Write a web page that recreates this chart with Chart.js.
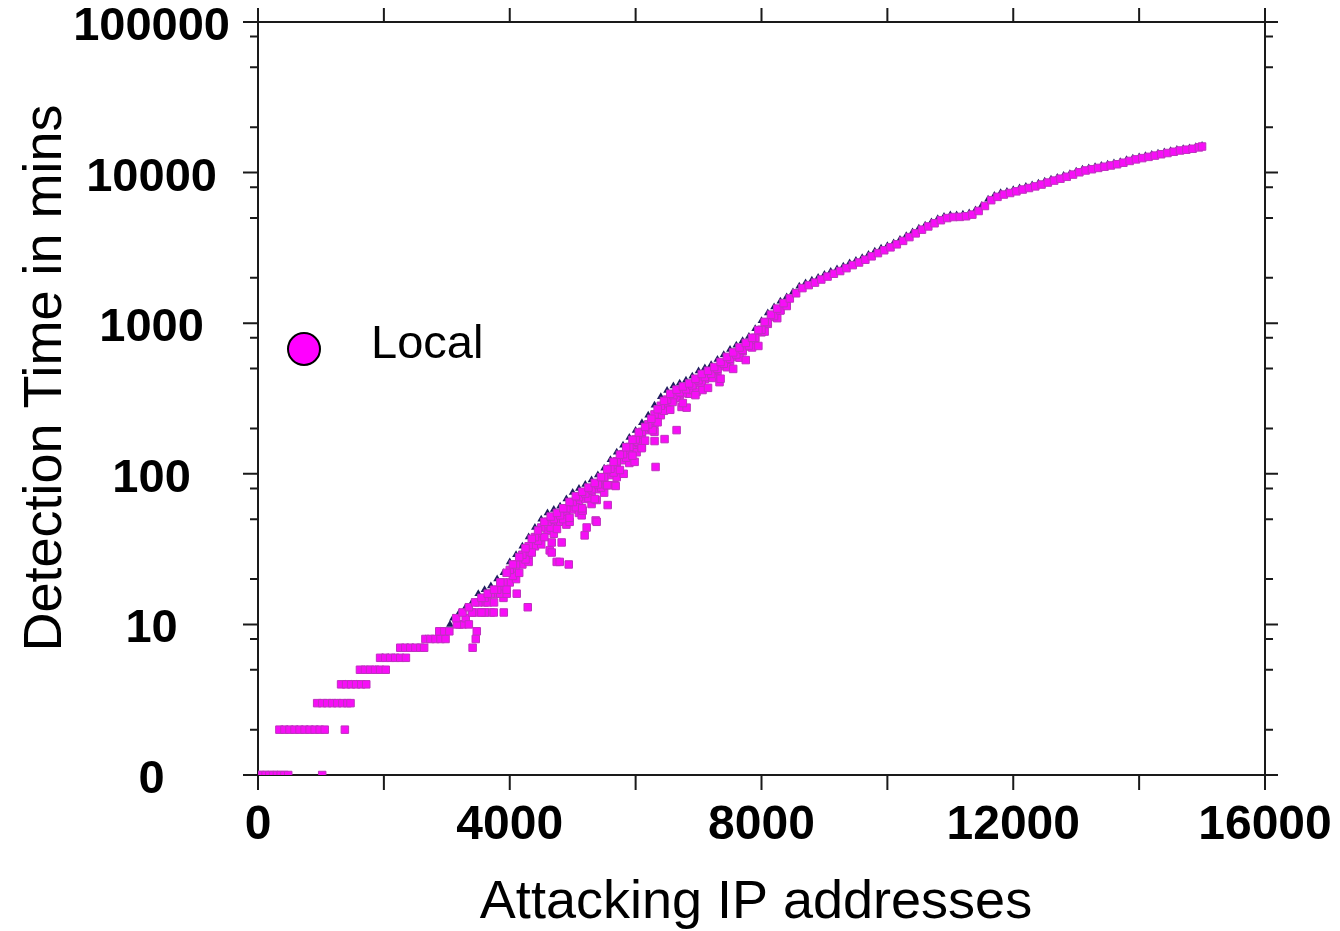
<!DOCTYPE html>
<html>
<head>
<meta charset="utf-8">
<title>Detection time</title>
<script src="https://cdn.jsdelivr.net/npm/chart.js@4.4.0/dist/chart.umd.min.js"></script>
<style>
  html, body { margin: 0; padding: 0; background: #fff; }
  #wrap { width: 1340px; height: 931px; }
</style>
</head>
<body>
<div id="wrap"><canvas id="detectionChart" width="1340" height="931"></canvas></div>
<script>
// --- axis ticks ---
const xTickValues = [0, 2000, 4000, 6000, 8000, 10000, 12000, 14000, 16000];
const xLabelValues = [0, 4000, 8000, 12000, 16000];
const yDecades = [1, 10, 100, 1000, 10000, 100000];
const yTickText = ['0', '10', '100', '1000', '10000', '100000'];
const yMinorValues = [2, 5, 8, 20, 50, 80, 200, 500, 800, 2000, 5000, 8000, 20000, 50000, 80000];

// --- upper envelope (triangles) ---
const upperIps = [
    0, 80, 160, 240, 310,
    390, 470, 550, 630, 710, 790, 870, 940,
    1000, 1090, 1180, 1270, 1390, 1480, 1570, 1690, 1780, 1870,
    1980, 2070, 2170, 2370, 2460, 2560, 2660, 2750, 2830, 2900, 2980, 3050,
    3100, 3200, 3300, 3400, 3500, 3600, 3700, 3800, 3900,
    4000, 4100, 4200, 4300, 4400, 4500, 4600, 4700, 4800, 4900,
    5000, 5100, 5200, 5300, 5400, 5500, 5600, 5700, 5800, 5900,
    6000, 6100, 6200, 6300, 6400, 6500, 6600, 6700, 6800, 6900,
    7000, 7100, 7200, 7300, 7400, 7500, 7600, 7700, 7800, 7900,
    8000, 8100, 8200, 8300, 8400, 8500, 8600, 8700, 8800, 8900,
    9000, 9100, 9200, 9300, 9400, 9500, 9600, 9700, 9800, 9900,
    10000, 10100, 10200, 10300, 10400, 10500, 10600, 10700, 10800, 10900,
    11000, 11100, 11200, 11300, 11400, 11500, 11600, 11700, 11800, 11900,
    12000, 12100, 12200, 12300, 12400, 12500, 12600, 12700, 12800, 12900,
    13000, 13100, 13200, 13300, 13400, 13500, 13600, 13700, 13800, 13900,
    14000, 14100, 14200, 14300, 14400, 14500, 14600, 14700, 14800, 14900,
    15000
];
const upperMins = [
    1, 1, 1, 1, 1,
    2, 2, 2, 2, 2, 2, 2, 2,
    3, 3, 3, 3, 4, 4, 4, 5, 5, 5,
    6, 6, 6, 7, 7, 7, 8, 8, 8, 9, 9, 10,
    11, 12, 13, 14, 16, 17, 18, 20, 22,
    26, 29, 33, 38, 44, 50, 55, 58, 61, 68,
    75, 80, 85, 91, 98, 109, 124, 139, 155, 174,
    194, 218, 245, 285, 325, 358, 383, 400, 418, 445,
    481, 505, 530, 573, 618, 668, 713, 764, 817, 920,
    1040, 1167, 1283, 1397, 1493, 1614, 1762, 1849, 1932, 2011,
    2104, 2208, 2291, 2393, 2512, 2612, 2723, 2858, 3006, 3141,
    3266, 3412, 3589, 3802, 4027, 4266, 4477, 4699, 4932, 5105,
    5224, 5236, 5297, 5395, 5649, 6053, 6653, 7047, 7345, 7500,
    7691, 7907, 8072, 8260, 8492, 8750, 9016, 9268, 9550, 9817,
    10210, 10520, 10720, 10940, 11140, 11350, 11560, 11800, 12160, 12450,
    12700, 12940, 13180, 13460, 13710, 13960, 14260, 14420, 14560, 14860,
    15140
];

// --- Local: whole-minute steps at the start ---
const stepIps = [
    0, 60, 120, 180, 240, 300, 360, 420, 480, 1020,
    340, 420, 500, 580, 660, 740, 820, 900, 980, 1060, 1380,
    940, 1020, 1100, 1180, 1260, 1340, 1420, 1470,
    1320, 1400, 1480, 1560, 1640, 1720,
    1620, 1700, 1780, 1860, 1940, 2030,
    1940, 2020, 2100, 2180, 2260, 2350,
    2260, 2340, 2420, 2500, 2580, 2640, 3410,
    2660, 2740, 2820, 2900, 2980, 3460,
    2880, 2960, 3040, 3476
];
const stepMins = [
    1, 1, 1, 1, 1, 1, 1, 1, 1, 1,
    2, 2, 2, 2, 2, 2, 2, 2, 2, 2, 2,
    3, 3, 3, 3, 3, 3, 3, 3,
    4, 4, 4, 4, 4, 4,
    5, 5, 5, 5, 5, 5,
    6, 6, 6, 6, 6, 6,
    7, 7, 7, 7, 7, 7, 7,
    8, 8, 8, 8, 8, 8,
    9, 9, 9, 9
];

// --- Local: main band ---
const bandIps = [
    3150, 3250, 3350, 3450, 3550, 3650, 3750, 3850, 3950,
    4050, 4150, 4250, 4350, 4450, 4550, 4650, 4750, 4850, 4950,
    5050, 5150, 5250, 5350, 5450, 5550, 5650, 5750, 5850, 5950,
    6050, 6150, 6250, 6350, 6450, 6550, 6650, 6750, 6850, 6950,
    7050, 7150, 7250, 7350, 7450, 7550, 7650, 7750, 7850, 7950,
    8050, 8150, 8250, 8350, 8450, 8550, 8650, 8750, 8850, 8950,
    9050, 9150, 9250, 9350, 9450, 9550, 9650, 9750, 9850, 9950,
    10050, 10150, 10250, 10350, 10450, 10550, 10650, 10750, 10850, 10950,
    11050, 11150, 11250, 11350, 11450, 11550, 11650, 11750, 11850, 11950,
    12050, 12150, 12250, 12350, 12450, 12550, 12650, 12750, 12850, 12950,
    13050, 13150, 13250, 13350, 13450, 13550, 13650, 13750, 13850, 13950,
    14050, 14150, 14250, 14350, 14450, 14550, 14650, 14750, 14850, 14950,
    15000
];
const bandMins = [
    11, 12, 13, 14, 15, 16, 17, 19, 22,
    25, 28, 32, 37, 42, 48, 52, 55, 59, 65,
    71, 76, 81, 87, 95, 107, 120, 134, 150, 168,
    188, 205, 232, 268, 305, 340, 362, 380, 398, 428,
    460, 483, 512, 553, 598, 640, 690, 740, 800, 900,
    1020, 1140, 1250, 1360, 1460, 1580, 1710, 1790, 1860, 1950,
    2040, 2130, 2220, 2320, 2430, 2530, 2640, 2780, 2920, 3050,
    3190, 3340, 3520, 3730, 3950, 4180, 4390, 4610, 4830, 4990,
    5070, 5080, 5130, 5260, 5560, 6000, 6560, 6900, 7150, 7320,
    7510, 7720, 7900, 8100, 8330, 8590, 8850, 9110, 9380, 9700,
    10050, 10330, 10530, 10740, 10940, 11150, 11360, 11630, 11950, 12240,
    12480, 12720, 12970, 13240, 13490, 13750, 14020, 14190, 14400, 14700,
    14900
];

// upper-middle of the band, 3300-8400
const bandMidIps = [
    3300, 3400, 3500, 3600, 3700, 3800, 3900,
    4000, 4100, 4200, 4300, 4400, 4500, 4600, 4700, 4800, 4900,
    5000, 5100, 5200, 5300, 5400, 5500, 5600, 5700, 5800, 5900,
    6000, 6100, 6200, 6300, 6400, 6500, 6600, 6700, 6800, 6900,
    7000, 7100, 7200, 7300, 7400, 7500, 7600, 7700, 7800, 7900,
    8000, 8100, 8200, 8300, 8400,
    3350, 3550, 3750, 3950, 4150, 4350, 4550, 4750, 4950, 5150,
    5350, 5550, 5750, 5950, 6150, 6350, 6550, 6750, 6950, 7150,
    7350, 7550, 7750, 7950
];
const bandMidMins = [
    11, 12, 14, 15, 16, 17, 19,
    23, 25, 29, 33, 38, 44, 48, 50, 53, 59,
    65, 70, 74, 79, 85, 95, 108, 121, 135, 151,
    169, 190, 213, 248, 283, 311, 333, 348, 364, 387,
    418, 439, 461, 498, 538, 581, 620, 665, 711, 800,
    905, 1015, 1116, 1215, 1300,
    10, 12, 14, 17, 22, 30, 38, 43, 51, 59,
    68, 84, 106, 132, 166, 220, 266, 295, 333, 372,
    428, 497, 569, 706
];

// lower part of the band where it is widest
const bandLowIps = [
    3200, 3400, 3600, 3800, 3900, 4000, 4100, 4200, 4300, 4400,
    4500, 4600, 4700, 4800, 4900, 5000, 5100, 5200, 5300, 5400,
    5500, 5600, 5700, 5800, 5900, 6000, 6100, 6200, 6300, 6400,
    6500, 6600, 6700, 6800, 6900, 7000, 7100, 7200, 7300, 7400,
    7500, 7600, 7700, 7800, 7900, 8000, 8100, 8200, 8300, 8400,
    3700, 3900, 4100, 4300, 4500, 4700, 4900, 5100, 5300, 5500,
    5700, 5900, 6100, 6300,
    3250, 3450, 3650, 3850, 4050, 4250, 4450, 4650, 4850, 5050,
    5250, 5450, 5650, 5850, 6050, 6250, 6450, 6650, 6850, 7050,
    7250, 7450, 7650, 7850, 8050, 8250
];
const bandLowMins = [
    10, 12, 14, 16, 17, 19, 22, 25, 29, 33,
    38, 42, 45, 48, 53, 58, 63, 68, 73, 79,
    88, 98, 110, 123, 138, 156, 176, 195, 215, 245,
    285, 312, 333, 350, 370, 400, 425, 450, 480, 520,
    560, 600, 650, 700, 770, 870, 990, 1100, 1220, 1320,
    12, 15, 20, 26, 34, 40, 46, 55, 63, 75,
    95, 118, 150, 190,
    10, 12, 14, 16, 21, 27, 36, 44, 50, 60,
    69, 81, 102, 128, 160, 200, 262, 320, 340, 395,
    440, 510, 590, 690, 880, 1080
];

// scattered slow detections below the band
const strayIps = [
    3159, 3572, 3603, 3746, 3905, 3952, 4111, 4286, 4635, 4667,
    4667, 4746, 4794, 4825, 4937, 4952, 5143, 5159, 5190, 5222,
    5365, 5381, 5381, 5540, 5556, 5667, 5683, 5810, 5984, 6016,
    6032, 6095, 6270, 6301, 6317, 6460, 6587, 6651, 6730, 6746,
    6810, 6905, 6968, 7063, 7222, 7333, 7698
];
const strayMins = [
    10, 12, 12, 12, 12, 16, 16, 13, 31, 35,
    30, 26, 26, 35, 25, 48, 53, 57, 39, 44,
    49, 48, 67, 84, 62, 84, 83, 100, 120, 139,
    163, 148, 195, 165, 111, 170, 300, 195, 278, 343,
    275, 360, 350, 360, 433, 406, 664
];

const toPoints = (xs, ys) => xs.map((v, i) => ({ x: v, y: ys[i] }));

const localPoints = [
    ...toPoints(stepIps, stepMins),
    ...toPoints(bandLowIps, bandLowMins),
    ...toPoints(strayIps, strayMins),
    ...toPoints(bandMidIps, bandMidMins),
    ...toPoints(bandIps, bandMins)
];

const FONT = "'Liberation Sans', Arial, Helvetica, sans-serif";
const AXIS_COLOR = '#1a1a1a';

// Box frame, outward ticks, axis titles and the legend entry
const frameAndTicks = {
    id: 'frameAndTicks',
    beforeDatasetsDraw(chart) {
        const { ctx, chartArea: { left, right, top, bottom }, scales: { x, y } } = chart;
        ctx.save();
        ctx.strokeStyle = AXIS_COLOR;
        ctx.lineWidth = 2;
        ctx.strokeRect(left, top, right - left, bottom - top);

        ctx.beginPath();
        xTickValues.forEach(v => {
            const px = x.getPixelForValue(v);
            ctx.moveTo(px, bottom); ctx.lineTo(px, bottom + 15);
            ctx.moveTo(px, top); ctx.lineTo(px, top - 14);
        });
        yDecades.forEach(v => {
            const py = y.getPixelForValue(v);
            ctx.moveTo(left - 15, py); ctx.lineTo(left, py);
            ctx.moveTo(right, py); ctx.lineTo(right + 13, py);
        });
        yMinorValues.forEach(v => {
            const py = y.getPixelForValue(v);
            ctx.moveTo(left - 8, py); ctx.lineTo(left, py);
            ctx.moveTo(right, py); ctx.lineTo(right + 8, py);
        });
        ctx.stroke();
        ctx.restore();
    },
    afterDraw(chart) {
        const { ctx } = chart;
        ctx.save();
        ctx.fillStyle = '#000';
        ctx.font = `54px ${FONT}`;
        ctx.textAlign = 'center';
        ctx.textBaseline = 'alphabetic';
        ctx.fillText('Attacking IP addresses', 756, 918);

        ctx.translate(61, 378);
        ctx.rotate(-Math.PI / 2);
        ctx.fillText('Detection Time in mins', 0, 0);
        ctx.restore();

        // legend
        ctx.save();
        ctx.beginPath();
        ctx.arc(304, 349, 16, 0, Math.PI * 2);
        ctx.fillStyle = '#ff00ff';
        ctx.fill();
        ctx.lineWidth = 2;
        ctx.strokeStyle = '#000';
        ctx.stroke();
        ctx.fillStyle = '#000';
        ctx.font = `47px ${FONT}`;
        ctx.textBaseline = 'alphabetic';
        ctx.fillText('Local', 371, 358);
        ctx.restore();
    }
};

const ctx = document.getElementById('detectionChart');

new Chart(ctx, {
    type: 'scatter',
    data: {
        datasets: [
            {
                label: 'Local',
                data: localPoints,
                pointStyle: 'rect',
                pointRadius: 5.3,
                backgroundColor: '#f70ef7',
                borderColor: '#c030c0',
                borderWidth: 1,
                order: 1
            },
            {
                label: 'Upper',
                data: toPoints(upperIps, upperMins),
                pointStyle: 'triangle',
                pointRadius: 4.5,
                backgroundColor: '#1e1e5e',
                borderColor: '#1e1e5e',
                borderWidth: 0,
                order: 2
            }
        ]
    },
    options: {
        responsive: false,
        animation: false,
        layout: { padding: { top: 22, right: 75, bottom: 0, left: 0 } },
        plugins: {
            legend: { display: false },
            tooltip: { enabled: false }
        },
        scales: {
            x: {
                type: 'linear',
                min: 0,
                max: 16000,
                afterBuildTicks: s => { s.ticks = xLabelValues.map(v => ({ value: v })); },
                afterFit: s => { s.height = 156; s.paddingLeft = 0; s.paddingRight = 0; },
                grid: { display: false },
                border: { display: false },
                ticks: {
                    color: '#000',
                    padding: 14,
                    maxRotation: 0,
                    autoSkip: false,
                    callback: value => String(value),
                    font: { family: FONT, size: 48, weight: 'bold' }
                }
            },
            y: {
                type: 'logarithmic',
                min: 1,
                max: 100000,
                afterBuildTicks: s => { s.ticks = yDecades.map(v => ({ value: v })); },
                afterFit: s => { s.width = 258; s.paddingTop = 0; s.paddingBottom = 0; },
                grid: { display: false },
                border: { display: false },
                ticks: {
                    color: '#000',
                    padding: 20,
                    labelOffset: 5,
                    crossAlign: 'center',
                    autoSkip: false,
                    callback: (value, index) => yTickText[index],
                    font: { family: FONT, size: 47, weight: 'bold' }
                }
            }
        }
    },
    plugins: [frameAndTicks]
});
</script>
</body>
</html>
